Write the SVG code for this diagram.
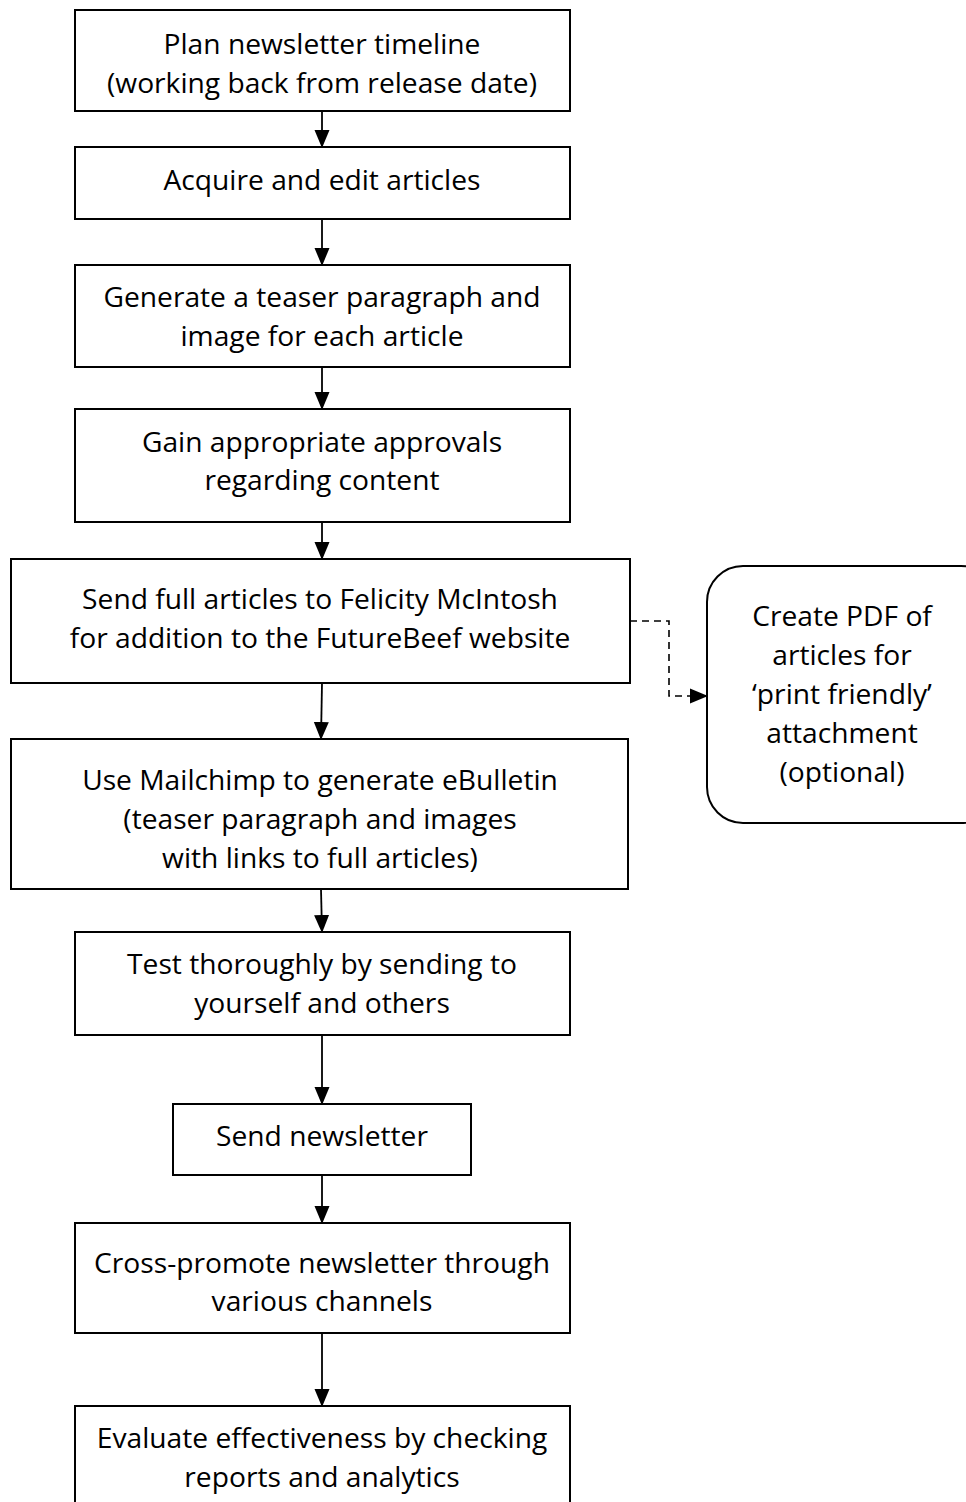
<svg xmlns="http://www.w3.org/2000/svg" width="966" height="1502" viewBox="0 0 966 1502">
<style>
.box{fill:#fff;stroke:#000;stroke-width:2}
.t{font-family:"Open Sans","Liberation Sans",sans-serif;font-size:28.2px;fill:#000;text-anchor:middle}
.c{stroke:#000;stroke-width:1.8;fill:none}
.d{stroke:#000;stroke-width:1.6;fill:none;stroke-dasharray:7,5}
</style>
<defs>
<marker id="ah" markerUnits="userSpaceOnUse" markerWidth="18" markerHeight="16" refX="17" refY="7.5" orient="auto" viewBox="0 0 18 15">
<path d="M0,0 L18,7.5 L0,15 Z" fill="#000"/>
</marker>
</defs>
<rect width="966" height="1502" fill="#fff"/>
<g id="connectors">
<line class="c" x1="322" y1="111" x2="322" y2="147" marker-end="url(#ah)"/>
<line class="c" x1="322" y1="219" x2="322" y2="265" marker-end="url(#ah)"/>
<line class="c" x1="322" y1="367" x2="322" y2="409" marker-end="url(#ah)"/>
<line class="c" x1="322" y1="522" x2="322" y2="559" marker-end="url(#ah)"/>
<line class="c" x1="322" y1="683" x2="321" y2="739" marker-end="url(#ah)"/>
<line class="c" x1="321" y1="889" x2="322" y2="932" marker-end="url(#ah)"/>
<line class="c" x1="322" y1="1035" x2="322" y2="1104" marker-end="url(#ah)"/>
<line class="c" x1="322" y1="1175" x2="322" y2="1223" marker-end="url(#ah)"/>
<line class="c" x1="322" y1="1333" x2="322" y2="1406" marker-end="url(#ah)"/>
<path class="d" d="M630,621 H669 V696 H707" marker-end="url(#ah)"/>
</g>
<g id="n1"><rect class="box" x="75" y="10" width="495" height="101"/>
<text class="t" x="322" y="54">Plan newsletter timeline</text>
<text class="t" x="322" y="93">(working back from release date)</text></g>
<g id="n2"><rect class="box" x="75" y="147" width="495" height="72"/>
<text class="t" x="322" y="190">Acquire and edit articles</text></g>
<g id="n3"><rect class="box" x="75" y="265" width="495" height="102"/>
<text class="t" x="322" y="307">Generate a teaser paragraph and</text>
<text class="t" x="322" y="346">image for each article</text></g>
<g id="n4"><rect class="box" x="75" y="409" width="495" height="113"/>
<text class="t" x="322" y="452">Gain appropriate approvals</text>
<text class="t" x="322" y="490">regarding content</text></g>
<g id="n5"><rect class="box" x="11" y="559" width="619" height="124"/>
<text class="t" x="320" y="609">Send full articles to Felicity McIntosh</text>
<text class="t" x="320" y="648">for addition to the FutureBeef website</text></g>
<g id="n6"><rect class="box" x="11" y="739" width="617" height="150"/>
<text class="t" x="320" y="790">Use Mailchimp to generate eBulletin</text>
<text class="t" x="320" y="829">(teaser paragraph and images</text>
<text class="t" x="320" y="868">with links to full articles)</text></g>
<g id="n7"><rect class="box" x="75" y="932" width="495" height="103"/>
<text class="t" x="322" y="974">Test thoroughly by sending to</text>
<text class="t" x="322" y="1013">yourself and others</text></g>
<g id="n8"><rect class="box" x="173" y="1104" width="298" height="71"/>
<text class="t" x="322" y="1146">Send newsletter</text></g>
<g id="n9"><rect class="box" x="75" y="1223" width="495" height="110"/>
<text class="t" x="322" y="1273">Cross-promote newsletter through</text>
<text class="t" x="322" y="1311">various channels</text></g>
<g id="n10"><rect class="box" x="75" y="1406" width="495" height="110"/>
<text class="t" x="322" y="1448">Evaluate effectiveness by checking</text>
<text class="t" x="322" y="1487">reports and analytics</text></g>
<g id="n11"><rect class="box" x="707" y="566" width="290" height="257" rx="36" ry="36"/>
<text class="t" x="842" y="626">Create PDF of</text>
<text class="t" x="842" y="665">articles for</text>
<text class="t" x="842" y="704">‘print friendly’</text>
<text class="t" x="842" y="743">attachment</text>
<text class="t" x="842" y="782">(optional)</text></g>
</svg>
